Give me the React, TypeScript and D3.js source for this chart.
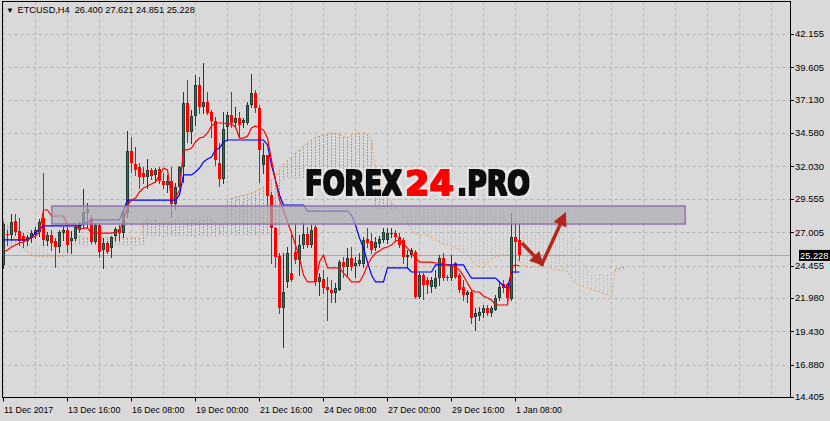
import React from "react";
import * as d3 from "d3";

const W = 830;
const H = 421;

const title = "ETCUSD,H4  26.400 27.621 24.851 25.228";
const lastPrice = 25.228;

const openP = [
  24.5, 26.87, 26.79, 27.86, 27.09, 26.71, 26.33, 26.56, 26.87, 27.02,
  28.09, 26.33, 26.79, 26.33, 25.87, 26.94, 27.17, 26.33, 26.48, 27.17,
  27.55, 28.47, 28.09, 26.25, 27.55, 25.64, 26.18, 25.79, 26.71, 27.25,
  26.94, 28.47, 33.21, 32.22, 31.99, 31.53, 31.22, 31.76, 31.38, 31.83,
  30.92, 30.61, 30.92, 29.16, 30.45, 31.99, 36.88, 34.66, 35.89, 38.26,
  36.57, 36.96, 36.19, 35.5, 32.29, 31.07, 35.05, 35.96, 35.35, 35.73,
  35.35, 35.35, 36.73, 37.64, 36.5, 32.14, 32.9, 29.85, 27.32, 25.18,
  21.21, 23.2, 23.88, 25.49, 24.88, 26.02, 26.87, 26.02, 27.4, 23.2,
  23.42, 22.81, 22.58, 22.36, 22.58, 24.72, 24.34, 25.03, 24.42, 24.57,
  24.57, 26.48, 26.33, 25.79, 26.1, 26.41, 26.41, 26.87, 26.94, 26.64,
  26.41, 25.11, 25.26, 25.49, 22.05, 23.73, 23.35, 22.81, 22.81, 23.5,
  25.03, 23.58, 23.5, 24.65, 23.73, 22.81, 22.2, 22.43, 20.52, 20.6,
  20.83, 21.21, 20.83, 21.05, 21.97, 23.04, 23.04, 21.9, 26.64, 26.4,
];
const highP = [
  27.78, 27.17, 28.39, 28.39, 28.09, 26.94, 26.79, 27.17, 27.4, 28.01,
  31.53, 27.02, 27.17, 26.56, 27.17, 27.4, 27.4, 27.09, 27.71, 27.78,
  30.3, 29.23, 28.32, 27.71, 27.71, 26.56, 26.33, 26.71, 27.4, 27.55,
  28.62, 34.74, 34.28, 33.52, 32.29, 31.99, 32.6, 31.91, 31.91, 31.99,
  31.53, 31.38, 31.99, 30.76, 32.06, 37.72, 38.64, 36.34, 39.02, 38.87,
  39.94, 37.72, 36.34, 35.81, 33.82, 36.19, 36.19, 37.72, 36.57, 36.19,
  35.73, 36.96, 39.1, 37.87, 36.73, 33.82, 32.9, 30.08, 27.4, 25.41,
  25.41, 25.87, 26.79, 27.71, 26.79, 27.78, 27.4, 27.55, 27.55, 23.88,
  24.11, 23.58, 23.35, 23.12, 24.88, 25.11, 25.79, 25.87, 25.11, 25.41,
  26.64, 27.32, 26.94, 26.64, 26.71, 27.32, 27.32, 27.32, 27.17, 26.94,
  26.56, 25.64, 25.79, 25.64, 23.88, 23.88, 23.58, 23.58, 24.11, 25.26,
  25.41, 23.73, 25.26, 24.72, 23.88, 23.35, 22.58, 22.58, 21.21, 21.29,
  21.44, 21.44, 21.36, 22.2, 23.2, 23.35, 23.12, 28.47, 27.71, 27.621,
];
const lowP = [
  24.27, 26.02, 26.41, 26.79, 26.02, 25.87, 26.02, 26.25, 26.56, 26.71,
  26.02, 26.02, 25.64, 24.34, 25.49, 26.41, 25.49, 25.41, 26.41, 27.02,
  27.32, 27.4, 26.18, 26.18, 25.11, 24.27, 25.41, 25.11, 26.41, 26.41,
  26.64, 28.17, 31.61, 31.38, 30.38, 30.76, 30.38, 31.07, 30.84, 30.76,
  30.38, 30.08, 28.17, 28.78, 30.38, 30.84, 33.9, 33.82, 35.2, 36.12,
  36.12, 36.04, 34.28, 32.14, 30.53, 30.76, 34.05, 35.05, 35.05, 34.28,
  35.05, 35.27, 36.57, 36.19, 30.84, 31.53, 29.08, 24.65, 24.34, 20.83,
  18.23, 22.81, 23.27, 24.65, 23.73, 25.79, 25.87, 25.87, 22.97, 22.2,
  22.36, 20.29, 21.67, 21.67, 22.58, 23.58, 23.73, 24.11, 23.58, 24.5,
  24.34, 25.87, 25.41, 25.64, 25.87, 26.25, 26.18, 26.64, 26.41, 25.87,
  24.65, 24.34, 25.11, 21.97, 21.97, 21.9, 22.36, 22.43, 22.74, 22.97,
  23.35, 23.35, 23.35, 23.5, 22.43, 21.82, 21.67, 20.06, 19.53, 20.29,
  20.52, 20.67, 20.6, 21.05, 21.82, 22.43, 21.82, 21.82, 23.96, 24.851,
];
const closeP = [
  27.63, 26.79, 27.78, 27.02, 26.33, 26.33, 26.64, 26.94, 27.17, 27.78,
  26.41, 26.79, 26.18, 25.87, 27.02, 27.17, 26.02, 26.56, 27.4, 27.55,
  28.55, 28.78, 26.25, 27.55, 25.49, 26.18, 25.49, 26.64, 27.25, 26.94,
  28.47, 33.21, 32.29, 31.76, 31.22, 31.22, 31.76, 31.3, 31.76, 30.92,
  30.61, 30.92, 29.16, 30.45, 31.99, 36.88, 34.66, 35.89, 38.26, 36.57,
  36.96, 36.12, 35.5, 32.52, 31.07, 34.89, 35.96, 35.35, 35.73, 35.2,
  35.58, 36.73, 37.64, 36.5, 33.29, 32.9, 29.77, 27.32, 25.11, 21.21,
  22.43, 25.41, 23.35, 24.88, 26.02, 26.87, 26.02, 27.17, 23.2, 23.58,
  22.74, 22.58, 22.36, 22.74, 24.72, 24.34, 25.03, 24.34, 24.65, 24.88,
  26.41, 26.18, 25.64, 26.25, 26.48, 27.02, 26.94, 26.94, 26.64, 26.02,
  25.11, 25.26, 25.64, 22.05, 23.73, 22.97, 22.97, 23.35, 23.5, 25.03,
  23.5, 23.5, 24.42, 23.58, 22.58, 22.2, 22.43, 20.44, 20.83, 20.9,
  21.21, 20.83, 21.21, 21.97, 22.81, 22.74, 21.97, 26.64, 26.25, 25.228,
];

const tenkan = [
  25.49, 25.64, 25.87, 26.02, 26.18, 26.25, 26.41, 26.56, 26.71, 27.02,
  28.7, 28.7, 28.24, 28.24, 28.24, 28.24, 27.55, 27.55, 27.55, 27.17,
  27.32, 27.32, 26.94, 26.94, 26.94, 26.94, 26.94, 26.94, 27.02, 27.17,
  27.78, 29.08, 29.46, 29.62, 30.08, 30.38, 30.53, 30.69, 30.84, 31.38,
  31.91, 31.76, 29.62, 29.62, 30.23, 33.29, 33.29, 33.44, 33.9, 34.2,
  34.28, 34.59, 35.12, 35.35, 35.35, 35.35, 35.27, 35.27, 35.05, 34.2,
  34.2, 34.36, 34.97, 35.12, 34.97, 34.82, 34.2, 32.52, 30.99, 29.46,
  28.7, 27.78, 26.94, 26.02, 25.03, 23.73, 23.2, 23.2, 23.2, 24.72,
  25.26, 24.27, 24.27, 24.27, 24.27, 23.88, 23.58, 23.2, 23.2, 23.2,
  23.73, 24.5, 25.03, 25.41, 25.57, 25.79, 25.87, 26.02, 26.33, 26.41,
  26.1, 25.79, 25.41, 25.03, 24.72, 24.72, 24.72, 24.72, 24.65, 24.65,
  24.57, 24.5, 24.42, 24.34, 24.11, 23.65, 23.12, 22.58, 22.43, 22.43,
  22.13, 21.97, 21.82, 21.44, 21.44, 21.44, 21.44, 24.34, 24.5, 24.42,
];
const kijun = [
  26.41, 26.41, 26.41, 26.41, 26.41, 26.41, 26.41, 26.64, 26.94, 27.25,
  27.48, 27.48, 27.48, 27.48, 27.48, 27.48, 27.48, 27.48, 27.48, 27.48,
  27.63, 27.78, 27.94, 27.94, 27.94, 27.94, 27.94, 27.94, 27.94, 27.94,
  28.7, 29.46, 29.46, 29.46, 29.46, 29.46, 29.46, 29.46, 29.46, 29.46,
  29.46, 29.46, 29.46, 29.46, 29.85, 31.38, 31.38, 31.38, 31.61, 31.91,
  32.37, 32.6, 32.75, 33.29, 33.44, 33.9, 34.05, 34.05, 34.05, 34.05,
  34.05, 34.05, 34.05, 34.05, 34.05, 34.05, 33.67, 32.14, 30.99, 29.85,
  29.08, 29.08, 29.08, 29.08, 29.08, 29.08, 28.62, 28.62, 28.62, 28.62,
  28.62, 28.62, 28.62, 28.62, 28.62, 28.62, 28.62, 28.32, 27.55, 26.56,
  25.79, 24.72, 23.73, 23.2, 23.2, 23.2, 24.27, 24.27, 24.27, 24.27,
  24.27, 24.27, 23.96, 23.96, 23.96, 23.96, 23.96, 23.96, 24.5, 24.5,
  24.5, 24.5, 24.5, 24.5, 24.5, 24.5, 23.96, 23.5, 23.5, 23.5,
  23.5, 23.5, 23.5, 23.5, 23.2, 22.89, 22.74, 23.96, 23.96, 23.96,
];
const spanA = [
  27.94, 27.55, 26.94, 26.41, 26.02, 25.72, 25.49, 25.26, 25.11, 25.11,
  25.11, 25.11, 25.11, 25.11, 25.11, 25.11, 25.41, 26.02, 26.56, 26.71,
  26.56, 26.56, 26.56, 26.56, 26.56, 26.56, 26.56, 26.56, 26.56, 26.56,
  26.56, 26.56, 26.56, 26.56, 26.56, 27.78, 28.01, 27.94, 27.94, 27.78,
  27.71, 27.71, 27.86, 27.94, 27.94, 27.94, 28.01, 28.01, 27.78, 27.86,
  27.94, 28.01, 27.94, 27.78, 27.63, 27.4, 29.46, 29.62, 29.69, 29.77,
  29.85, 29.92, 30.0, 30.15, 30.3, 30.45, 30.69, 30.99, 31.3, 31.76,
  32.22, 32.52, 32.75, 33.06, 33.29, 33.59, 33.82, 34.05, 34.28, 34.36,
  34.43, 34.51, 34.59, 34.59, 34.51, 34.28, 34.28, 34.43, 34.59, 34.59,
  34.59, 34.51, 34.05, 31.99, 30.76, 30.0, 29.69, 29.31, 28.93, 28.47,
  28.17, 27.78, 27.17, 26.87, 26.79, 26.79, 26.79, 26.56, 26.41, 26.25,
  26.1, 26.02, 25.95, 25.87, 25.64, 25.41, 25.18, 24.88, 24.5, 24.34,
  24.34, 24.65, 24.95, 25.11, 25.18, 25.26, 25.26, 25.18, 25.03, 24.72,
  24.42, 24.34, 24.34, 24.34, 24.34, 24.34, 24.27, 24.19, 24.11, 24.11,
  24.11, 23.96, 23.5, 23.12, 22.89, 22.81, 22.74, 22.66, 22.51, 22.43,
  22.28, 22.2, 22.05, 24.19, 24.27, 24.34,
];
const spanB = [
  25.95, 25.95, 25.95, 25.95, 25.95, 25.95, 25.95, 25.95, 25.95, 26.02,
  26.02, 26.02, 26.02, 26.02, 26.02, 26.02, 26.02, 26.02, 26.02, 26.02,
  26.02, 26.02, 26.02, 26.02, 26.02, 26.02, 26.02, 26.02, 26.02, 26.02,
  26.02, 26.02, 26.02, 26.02, 26.02, 26.02, 26.71, 26.71, 26.71, 26.71,
  26.71, 26.71, 26.71, 26.71, 26.71, 26.71, 26.71, 26.71, 26.71, 26.71,
  26.71, 26.71, 26.71, 26.71, 26.71, 26.71, 26.79, 26.79, 26.79, 26.79,
  26.79, 26.79, 26.79, 26.79, 26.79, 26.79, 26.79, 26.79, 26.79, 26.79,
  31.15, 31.15, 31.15, 31.15, 31.15, 31.15, 31.15, 31.15, 31.15, 31.15,
  31.15, 31.15, 31.15, 31.15, 31.15, 31.15, 31.15, 31.15, 31.15, 31.15,
  31.15, 31.15, 31.15, 28.78, 28.78, 28.78, 28.78, 28.78, 28.78, 28.78,
  28.78, 28.78, 28.78, 28.78, 28.78, 28.78, 28.78, 28.78, 28.78, 28.78,
  28.78, 28.78, 28.78, 28.78, 28.78, 28.78, 28.78, 28.78, 28.78, 28.78,
  28.78, 28.78, 28.78, 28.78, 28.78, 28.78, 28.78, 28.78, 28.78, 28.78,
  28.78, 28.78, 28.78, 28.78, 28.78, 28.78, 28.78, 28.78, 28.78, 28.78,
  28.78, 28.78, 27.02, 25.79, 25.03, 24.5, 24.11, 23.81, 23.73, 23.73,
  23.73, 23.73, 23.73, 23.96, 24.04, 24.11,
];

const xTickBars = [0, 16, 32, 48, 64, 80, 96, 112, 128];
const xTickLabels = [
  "11 Dec 2017", "13 Dec 16:00", "16 Dec 08:00", "19 Dec 00:00", "21 Dec 16:00",
  "24 Dec 08:00", "27 Dec 00:00", "29 Dec 16:00", "1 Jan 08:00",
];
const yTickLabels = [
  "42.155", "39.605", "37.130", "34.580", "32.030", "29.555",
  "27.005", "24.455", "21.980", "19.430", "16.880", "14.405",
];

// annotations in (bar index, price)
const zoneBars = [12.1, 170.4];
const zonePrices = [27.63, 29.0];
const arrowDown = [[129.6, 26.18], [135.1, 24.42]];
const arrowUp = [[134.4, 24.42], [140.6, 28.55]];

const watermarkParts = ["FOREX", "24", ".PRO"];
const watermarkColors = ["#0a0a0a", "#ff0000", "#0a0a0a"];
const watermarkWidths = [100, 52, 76];

const BG = "#d9d9d9";
const GRID = "#b5b5b5";
const BULL_FILL = "#3a6b56";
const BULL_LINE = "#203e34";
const BEAR = "#ff0000";
const SANDY = "#f4a460";
const SANDY_H = "#f08c3c";
const THISTLE = "#d8bfd8";
const THISTLE_H = "#dab4da";
const ARROW = "#b3261e";
const FONT = "'Liberation Sans', Arial, sans-serif";

export default function App() {
  const L = 2.5, R = 790.5, T = 1.5, B = 397.5;
  const x = d3.scaleLinear().domain([0, 196]).range([3.5, 787.5]);
  const y = d3.scaleLinear().domain([14.405, 42.155]).range([397, 34]);

  const idx = d3.range(openP.length);
  const cIdx = d3.range(spanA.length);
  const line = d3
    .line<[number, number]>()
    .x((d) => x(d[0]))
    .y((d) => y(d[1]));

  const px = (v: number) => Math.round(v) + 0.5;

  const arrow = (pts: number[][], key: string) => {
    const x0 = x(pts[0][0]), y0 = y(pts[0][1]);
    const x1 = x(pts[1][0]), y1 = y(pts[1][1]);
    const dx = x1 - x0, dy = y1 - y0;
    const len = Math.hypot(dx, dy);
    const ux = dx / len, uy = dy / len;
    const hl = 14, hw = 7;
    const bx = x1 - ux * hl, by = y1 - uy * hl;
    const p1 = [bx - uy * hw, by + ux * hw];
    const p2 = [bx + uy * hw, by - ux * hw];
    return (
      <g key={key}>
        <line x1={x0} y1={y0} x2={bx + ux * 2} y2={by + uy * 2} stroke={ARROW} strokeWidth={3.5} />
        <polygon points={`${x1},${y1} ${p1[0]},${p1[1]} ${p2[0]},${p2[1]}`} fill={ARROW} />
      </g>
    );
  };

  let wx = 305;
  const wmStarts = watermarkWidths.map((w) => {
    const s = wx;
    wx += w;
    return s;
  });

  return (
    <svg
      width={W}
      height={H}
      style={{ position: "absolute", left: 0, top: 0, display: "block" }}
      fontFamily={FONT}
    >
      <defs>
        <clipPath id="plot">
          <rect x={L} y={T} width={R - L} height={B - T} />
        </clipPath>
        <filter id="soft" x="-5%" y="-50%" width="110%" height="200%">
          <feGaussianBlur stdDeviation="1.5" />
        </filter>
        <filter id="wm" x="-15%" y="-40%" width="130%" height="180%">
          <feMorphology in="SourceAlpha" operator="dilate" radius="2.5" result="haloA" />
          <feFlood floodColor="#f0f0f0" floodOpacity="0.55" />
          <feComposite in2="haloA" operator="in" result="halo" />
          <feMorphology in="SourceGraphic" operator="dilate" radius="0.6" result="thick" />
          <feMerge>
            <feMergeNode in="halo" />
            <feMergeNode in="thick" />
          </feMerge>
        </filter>
      </defs>
      <rect x={0} y={0} width={W} height={H} fill={BG} />

      <g clipPath="url(#plot)">
        {/* grid */}
        {yTickLabels.map((t) => (
          <line key={"gy" + t} x1={L} x2={R} y1={px(y(+t))} y2={px(y(+t))} stroke={GRID} strokeDasharray="3,3" />
        ))}
        {d3.range(0, 197, 8).map((i) => (
          <line key={"gx" + i} x1={Math.floor(x(i)) + 0.5} x2={Math.floor(x(i)) + 0.5} y1={T} y2={B} stroke={GRID} strokeDasharray="3,3" />
        ))}

        {/* kumo hatch */}
        {cIdx.map((i) => {
          const a = spanA[i], b = spanB[i];
          return (
            <line
              key={"h" + i}
              x1={Math.floor(x(i)) + 0.5}
              x2={Math.floor(x(i)) + 0.5}
              y1={Math.round(y(a))}
              y2={Math.round(y(b))}
              stroke={a >= b ? SANDY_H : THISTLE_H}
              strokeDasharray="2,1"
            />
          );
        })}
        <path d={line(cIdx.map((i) => [i, spanB[i]]) as any) || ""} fill="none" stroke={THISTLE} strokeDasharray="2,2" />
        <path d={line(cIdx.map((i) => [i, spanA[i]]) as any) || ""} fill="none" stroke={SANDY} strokeDasharray="2,2" />

        {/* current price line */}
        <line x1={L} x2={R} y1={px(y(lastPrice))} y2={px(y(lastPrice))} stroke="#a8a8a8" />

        {/* candles */}
        {idx.map((i) => {
          const o = openP[i], h = highP[i], l = lowP[i], c = closeP[i];
          const cx = Math.floor(x(i)) + 0.5;
          const bull = c >= o;
          const yt = Math.round(y(Math.max(o, c)));
          const yb = Math.round(y(Math.min(o, c)));
          const bh = Math.max(1, yb - yt);
          return (
            <g key={"c" + i}>
              <line x1={cx} x2={cx} y1={Math.round(y(h))} y2={Math.round(y(l)) + 1} stroke={bull ? BULL_LINE : BEAR} />
              {bull ? (
                <rect x={cx - 1} y={yt + 0.5} width={2} height={Math.max(0.01, bh - 1)} fill={BULL_FILL} stroke={BULL_LINE} />
              ) : (
                <rect x={cx - 1.5} y={yt} width={3} height={bh} fill={BEAR} />
              )}
            </g>
          );
        })}

        {/* ichimoku lines */}
        <path d={line(idx.map((i) => [i, kijun[i]]) as any) || ""} fill="none" stroke="#0000ff" strokeWidth={1.2} />
        <path d={line(idx.map((i) => [i, tenkan[i]]) as any) || ""} fill="none" stroke="#ff0000" strokeWidth={1.2} />

        {/* resistance zone */}
        <rect
          x={x(zoneBars[0])}
          y={y(zonePrices[1])}
          width={x(zoneBars[1]) - x(zoneBars[0])}
          height={y(zonePrices[0]) - y(zonePrices[1])}
          fill="#8f8f9a"
          opacity={0.35}
          filter="url(#soft)"
        />
        <rect
          x={x(zoneBars[0])}
          y={y(zonePrices[1])}
          width={x(zoneBars[1]) - x(zoneBars[0])}
          height={y(zonePrices[0]) - y(zonePrices[1])}
          fill="#b4b4bc"
          fillOpacity={0.55}
          stroke="#9574b0"
          strokeWidth={1.5}
        />
      </g>

      {/* watermark */}
      {watermarkParts.map((t, k) => (
        <g key={"wm" + k} transform={`translate(${wmStarts[k]},195) scale(1,1.26)`}>
          <text
            x={0}
            y={0}
            fontFamily="'DejaVu Sans', sans-serif"
            fontWeight="bold"
            fontSize={27}
            textLength={watermarkWidths[k] - 3}
            lengthAdjust="spacingAndGlyphs"
            fill={watermarkColors[k]}
            filter="url(#wm)"
          >
            {t}
          </text>
        </g>
      ))}

      {/* arrows */}
      {arrow(arrowDown, "ad")}
      {arrow(arrowUp, "au")}

      {/* frame */}
      <rect x={L} y={T} width={R - L} height={B - T} fill="none" stroke="#000" />

      {/* y axis */}
      {yTickLabels.map((t) => (
        <g key={"yt" + t}>
          <line x1={R} x2={R + 3.5} y1={px(y(+t))} y2={px(y(+t))} stroke="#000" />
          <text x={795} y={y(+t) + 3.4} fontSize={9.5} fill="#000">
            {t}
          </text>
        </g>
      ))}
      <rect x={799} y={y(lastPrice) - 5.5} width={31} height={11} fill="#000" />
      <text x={800} y={y(lastPrice) + 3.4} fontSize={9.3} fill="#fff">
        {lastPrice.toFixed(3)}
      </text>

      {/* x axis */}
      {xTickBars.map((b, k) => (
        <g key={"xt" + b}>
          <line x1={Math.floor(x(b)) + 0.5} x2={Math.floor(x(b)) + 0.5} y1={B} y2={B + 4} stroke="#000" />
          <text x={Math.floor(x(b)) + 1} y={413} fontSize={8.8} fill="#000">
            {xTickLabels[k]}
          </text>
        </g>
      ))}

      {/* title */}
      <text x={6} y={13} fontSize={8} fill="#000">
        ▼
      </text>
      <text x={17.5} y={13} fontSize={9.2} fill="#000" style={{ whiteSpace: "pre" }}>
        {title}
      </text>
    </svg>
  );
}
